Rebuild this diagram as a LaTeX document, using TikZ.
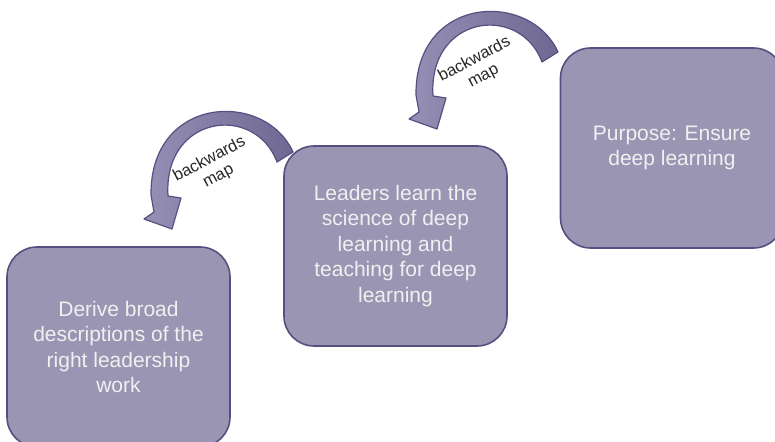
\documentclass[tikz,border=0pt]{standalone}
\usepackage{fontspec}
\setmainfont{Liberation Sans}
\usetikzlibrary{shapes, calc}
\definecolor{boxfill}{RGB}{155,149,180}
\definecolor{boxline}{RGB}{84,80,128}
\definecolor{arrowlight}{RGB}{150,144,182}
\definecolor{arrowdark}{RGB}{110,104,146}

\begin{document}
\begin{tikzpicture}[x=1pt, y=-1pt]
			\tikzstyle{stepnode}=[
			draw=boxline,
			line width=1.6pt,
			fill=boxfill,
			rounded corners=30pt,
			minimum width=223pt,
			minimum height=200pt,
			text=white!94!black,
			align=center,
			font=\fontsize{21}{25.5}\selectfont
			]
			\tikzstyle{bigarrow}=[
			draw=boxline,
			line width=1.2pt,
			left color=arrowlight,
			right color=arrowdark,
			line join=round
			]
			\tikzstyle{maplabel}=[
			align=center,
			rotate=28,
			inner sep=0pt,
			text=black!85,
			font=\fontsize{16.5}{19}\selectfont
			]
			\useasboundingbox (0,0) rectangle (775,441);
			\clip (0,0) rectangle (775,441);
			\node[stepnode] (DERIVE) at (118.5,347) {Derive broad\\ descriptions of the\\ right leadership\\ work};
			\node[stepnode] (LEARN) at (395.5,246) {Leaders learn the\\ science of deep\\ learning and\\ teaching for deep\\ learning};
			\node[stepnode] (PURPOSE) at (672,148) {Purpose: Ensure\\ deep learning};
			%
			\foreach \dx/\dy [count=\i] in {0/0, 265/-100} {
				\begin{scope}[shift={(\dx,\dy)}]
					\path[bigarrow] (293,152) .. controls (265,90) and (150,95) .. (151,195)
						-- (154,212) -- (144,219) -- (172,229) -- (181,198) -- (168,196)
						.. controls (163,115) and (255,103) .. (277,162) -- cycle;
					\node[maplabel] (MAP\i) at (214,168) {backwards\\ map};
				\end{scope}
			}
		\end{tikzpicture}
\end{document}
